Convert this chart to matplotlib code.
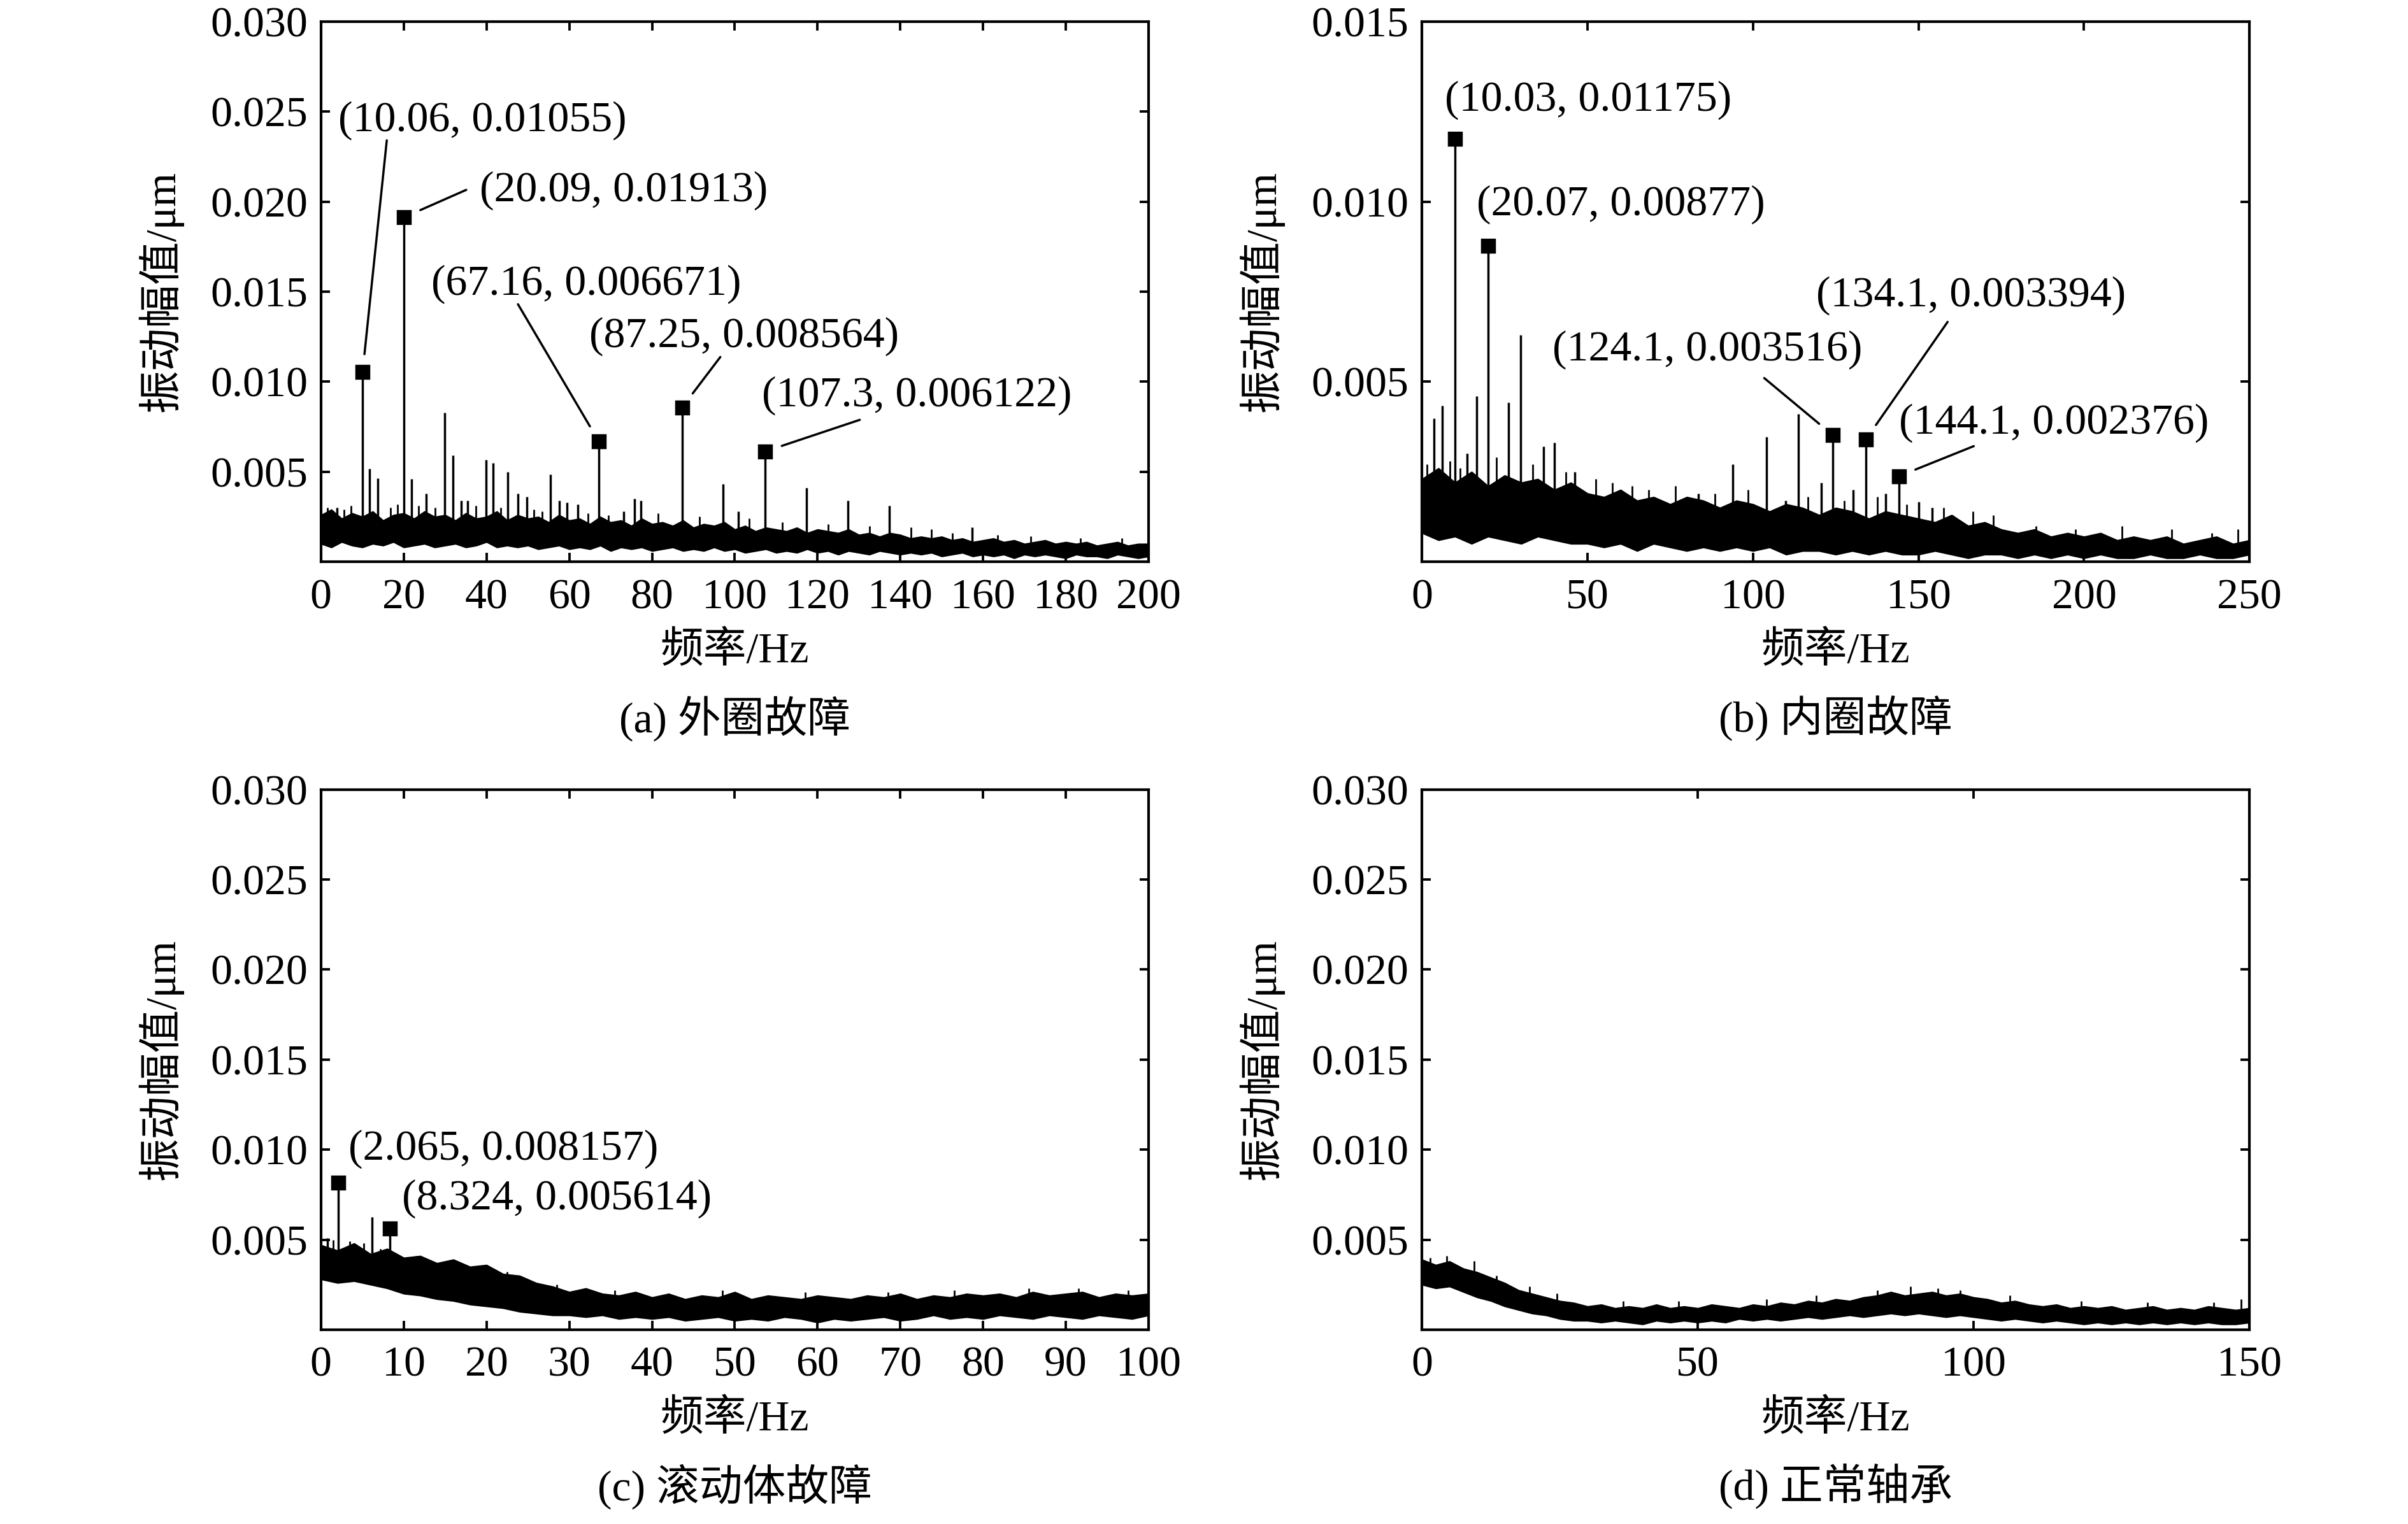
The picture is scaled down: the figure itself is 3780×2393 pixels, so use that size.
import matplotlib
matplotlib.use('Agg')
import matplotlib.pyplot as plt
import numpy as np

plt.rcParams['font.family'] = ['Liberation Serif', 'Noto Sans CJK SC']
plt.rcParams['axes.unicode_minus'] = False

# ---------------- data (amplitudes in um) ----------------
# (a) outer race fault, noise band every 2.5 Hz
a_band_f = np.arange(0, 200.1, 2.5)
a_band_up = np.array([2.6, 2.9, 2.4, 2.7, 2.5, 2.8, 2.3, 2.6, 2.7, 2.4, 2.8, 2.5, 2.6, 2.3, 2.7, 2.4, 2.5, 2.8, 2.3, 2.6,
                      2.4, 2.5, 2.2, 2.6, 2.3, 2.4, 2.1, 2.5, 2.2, 2.3, 2.0, 2.4, 2.1, 2.2, 2.0, 2.3, 1.9, 2.1, 2.0, 2.2,
                      1.8, 2.0, 1.7, 1.9, 1.8, 1.7, 1.9, 1.6, 1.8, 1.7, 1.6, 1.8, 1.5, 1.6, 1.4, 1.6, 1.5, 1.3, 1.4, 1.3,
                      1.4, 1.2, 1.3, 1.1, 1.2, 1.3, 1.1, 1.2, 1.0, 1.1, 1.2, 1.0, 1.1, 1.0, 1.1, 0.9, 1.0, 1.1, 0.9, 1.0,
                      1.0]) * 1e-3
a_band_lo = np.array([1.0, 0.8, 1.1, 0.9, 0.8, 1.0, 0.9, 1.1, 0.8, 0.9, 1.0, 0.8, 0.9, 1.0, 0.8, 0.9, 1.1, 0.8, 0.9, 0.8,
                      0.9, 0.7, 0.8, 0.9, 0.7, 0.8, 0.7, 0.9, 0.6, 0.8, 0.7, 0.8, 0.6, 0.7, 0.8, 0.6, 0.7, 0.6, 0.8, 0.6,
                      0.7, 0.5, 0.6, 0.7, 0.5, 0.6, 0.5, 0.7, 0.5, 0.6, 0.4, 0.6, 0.5, 0.4, 0.6, 0.5, 0.4, 0.5, 0.4, 0.5,
                      0.3, 0.4, 0.5, 0.3, 0.4, 0.3, 0.4, 0.2, 0.4, 0.3, 0.4, 0.3, 0.2, 0.4, 0.3, 0.3, 0.2, 0.4, 0.3, 0.2,
                      0.3]) * 1e-3
a_spike_f = [3.8, 11.7, 13.7, 21.9, 25.4, 29.9, 31.9, 33.9, 35.4, 39.9, 41.6, 45.2, 47.6, 49.7, 55.4, 57.6,
             59.4, 62.1, 73.1, 75.8, 77.3, 97.2, 100.8, 117.4, 127.4, 137.4, 157.4]
a_spike_a = [0.0030, 0.00518, 0.00462, 0.0046, 0.0038, 0.00827, 0.00592, 0.0034, 0.0034, 0.00565, 0.0055,
             0.0050, 0.0038, 0.0036, 0.00484, 0.0034, 0.0033, 0.0032, 0.0028, 0.0035, 0.0034, 0.0043, 0.0028,
             0.0041, 0.0034, 0.0031, 0.0019]
a_grass_f = [1.5, 5.5, 7.2, 16.8, 18.5, 23.5, 27.5, 37.5, 43.5, 51.5, 53.5, 64.5, 69.5, 81.5, 91.5,
             103.5, 111.5, 122.5, 132.5, 142.5, 147.5, 152.5, 163.5, 171.5, 183.5, 193.5]
a_grass_a = [0.0030, 0.0029, 0.0031, 0.0030, 0.0032, 0.0031, 0.0030, 0.0031, 0.0030, 0.0029, 0.0028,
             0.0027, 0.0026, 0.0027, 0.0025, 0.0024, 0.0022, 0.0021, 0.0020, 0.0019, 0.0018, 0.0016,
             0.0015, 0.0014, 0.0013, 0.0013]
a_peak_f = [10.06, 20.09, 67.16, 87.25, 107.3]
a_peak_a = [0.01055, 0.01913, 0.006671, 0.008564, 0.006122]
a_peak_txt = ['(10.06, 0.01055)', '(20.09, 0.01913)', '(67.16, 0.006671)',
              '(87.25, 0.008564)', '(107.3, 0.006122)']

# (b) inner race fault, noise band every 5 Hz
b_band_f = np.arange(0, 250.1, 5)
b_band_up = np.array([2.3, 2.6, 2.2, 2.5, 2.1, 2.4, 2.2, 2.3, 2.0, 2.2,
                      1.9, 1.8, 2.0, 1.7, 1.8, 1.6, 1.8, 1.7, 1.5, 1.7,
                      1.6, 1.4, 1.6, 1.5, 1.3, 1.5, 1.4, 1.2, 1.4, 1.3,
                      1.2, 1.1, 1.3, 1.0, 1.1, 0.9, 0.8, 0.9, 0.7, 0.8,
                      0.7, 0.8, 0.6, 0.7, 0.6, 0.7, 0.5, 0.6, 0.7, 0.5,
                      0.6]) * 1e-3
b_band_lo = np.array([0.8, 0.6, 0.7, 0.5, 0.7, 0.6, 0.5, 0.7, 0.6, 0.5,
                      0.5, 0.4, 0.5, 0.3, 0.5, 0.4, 0.3, 0.4, 0.3, 0.4,
                      0.3, 0.4, 0.2, 0.3, 0.3, 0.2, 0.3, 0.2, 0.3, 0.2,
                      0.2, 0.3, 0.2, 0.1, 0.2, 0.2, 0.1, 0.2, 0.1, 0.2,
                      0.1, 0.2, 0.1, 0.1, 0.2, 0.1, 0.1, 0.2, 0.1, 0.1,
                      0.2]) * 1e-3
b_spike_f = [3.6, 6.2, 13.7, 16.5, 26.2, 29.8, 36.7, 40.1, 46.1, 83.5, 93.8, 104.1, 109.9, 113.7,
             120.6, 130.3, 140.1, 150.0, 154.1, 160.3]
b_spike_a = [0.00398, 0.00433, 0.0030, 0.0046, 0.00442, 0.0063, 0.0032, 0.0033, 0.0025, 0.0019,
             0.0027, 0.00347, 0.0017, 0.0041, 0.0022, 0.0020, 0.0019, 0.00166, 0.0015, 0.0013]
b_grass_f = [1.5, 8.5, 11.5, 22.5, 33.5, 43.5, 52.5, 57.5, 63.5, 68.5, 76.5, 88.5, 98.5, 116.5,
             127.5, 137.5, 146.5, 157.5, 166.5, 172.5, 185.5, 197.5, 211.5, 226.5, 238.5, 246.5]
b_grass_a = [0.0027, 0.0028, 0.0026, 0.0029, 0.0027, 0.0025, 0.0023, 0.0022, 0.0021, 0.0020, 0.0021,
             0.0019, 0.0020, 0.0018, 0.0017, 0.0018, 0.0016, 0.0015, 0.0014, 0.0013, 0.0010, 0.0009,
             0.0010, 0.0009, 0.0008, 0.0009]
b_peak_f = [10.03, 20.07, 124.1, 134.1, 144.1]
b_peak_a = [0.01175, 0.00877, 0.003516, 0.003394, 0.002376]
b_peak_txt = ['(10.03, 0.01175)', '(20.07, 0.00877)', '(124.1, 0.003516)',
              '(134.1, 0.003394)', '(144.1, 0.002376)']

# (c) rolling element fault, noise band every 2 Hz
c_band_f = np.arange(0, 100.1, 2)
c_band_up = np.array([4.7, 4.4, 4.8, 4.2, 4.5, 4.0, 4.1, 3.7, 3.9, 3.5,
                      3.6, 3.1, 3.0, 2.6, 2.4, 2.1, 2.3, 2.0, 1.9, 2.1,
                      1.8, 2.0, 1.7, 1.9, 1.8, 2.1, 1.7, 1.9, 1.8, 1.7,
                      1.9, 1.8, 1.7, 1.9, 1.8, 2.0, 1.7, 1.9, 1.8, 2.0,
                      1.9, 2.0, 1.8, 2.1, 1.9, 2.0, 2.1, 1.8, 2.0, 1.9,
                      2.0]) * 1e-3
c_band_lo = np.array([2.8, 2.6, 2.7, 2.5, 2.3, 2.0, 1.9, 1.7, 1.6, 1.4,
                      1.3, 1.2, 1.0, 0.9, 0.8, 0.8, 0.7, 0.8, 0.6, 0.7,
                      0.6, 0.7, 0.5, 0.6, 0.7, 0.5, 0.6, 0.5, 0.7, 0.6,
                      0.4, 0.6, 0.5, 0.6, 0.7, 0.5, 0.6, 0.8, 0.6, 0.7,
                      0.6, 0.8, 0.7, 0.6, 0.8, 0.7, 0.6, 0.8, 0.7, 0.6,
                      0.8]) * 1e-3
c_spike_f = [0.8, 6.2]
c_spike_a = [0.0051, 0.00625]
c_grass_f = [1.5, 3.5, 5.2, 7.2, 11.5, 14.5, 17.5, 22.5, 28.5, 35.5, 48.5, 58.5, 68.5, 76.5, 85.5, 91.5, 97.5]
c_grass_a = [0.0050, 0.0049, 0.0048, 0.0045, 0.0041, 0.0036, 0.0033, 0.0032, 0.0025, 0.0022, 0.0022,
             0.0021, 0.0021, 0.0022, 0.0023, 0.0023, 0.0022]
c_peak_f = [2.065, 8.324]
c_peak_a = [0.008157, 0.005614]
c_peak_txt = ['(2.065, 0.008157)', '(8.324, 0.005614)']

# (d) normal bearing, noise band every 2.5 Hz
d_band_f = np.arange(0, 150.1, 2.5)
d_band_up = np.array([3.9, 3.6, 3.8, 3.4, 3.2, 2.9, 2.6, 2.2, 2.0, 1.8,
                      1.6, 1.5, 1.3, 1.4, 1.2, 1.3, 1.2, 1.4, 1.2, 1.3,
                      1.2, 1.4, 1.3, 1.2, 1.4, 1.3, 1.5, 1.4, 1.6, 1.5,
                      1.7, 1.6, 1.8, 1.9, 2.1, 1.9, 2.0, 2.1, 1.9, 2.0,
                      1.8, 1.7, 1.5, 1.6, 1.4, 1.3, 1.4, 1.2, 1.3, 1.2,
                      1.3, 1.1, 1.2, 1.3, 1.1, 1.2, 1.1, 1.3, 1.2, 1.1,
                      1.2]) * 1e-3
d_band_lo = np.array([2.5, 2.3, 2.4, 2.1, 1.8, 1.6, 1.3, 1.1, 0.9, 0.8,
                      0.6, 0.5, 0.5, 0.4, 0.5, 0.4, 0.3, 0.5, 0.4, 0.5,
                      0.4, 0.5, 0.4, 0.6, 0.5, 0.6, 0.5, 0.6, 0.7, 0.6,
                      0.7, 0.8, 0.7, 0.8, 0.9, 0.8, 0.9, 0.8, 0.7, 0.8,
                      0.7, 0.6, 0.5, 0.6, 0.5, 0.4, 0.5, 0.4, 0.3, 0.4,
                      0.3, 0.4, 0.3, 0.4, 0.3, 0.4, 0.3, 0.4, 0.3, 0.3,
                      0.4]) * 1e-3
d_grass_f = [1.5, 4.5, 9.5, 13.5, 19.5, 24.5, 36.5, 46.5, 62.5, 71.5, 82.5, 88.5, 93.5, 97.5,
             106.5, 119.5, 131.5, 143.5, 148.5]
d_grass_a = [0.0040, 0.0041, 0.0038, 0.0030, 0.0024, 0.0020, 0.0016, 0.0016, 0.0017, 0.0019, 0.0022,
             0.0024, 0.0023, 0.0022, 0.0019, 0.0016, 0.0015, 0.0015, 0.0017]

captions = ['(a) 外圈故障', '(b) 内圈故障', '(c) 滚动体故障', '(d) 正常轴承']

# ---------------- layout ----------------
FS = 19.5
W, H = 0.3437, 0.3545
positions = [[0.1333, 0.6314, W, H], [0.5905, 0.6314, W, H],
             [0.1333, 0.1275, W, H], [0.5905, 0.1275, W, H]]
xlims = [200, 250, 100, 150]
xsteps = [20, 50, 10, 50]
ytops = [0.030, 0.015, 0.030, 0.030]

# label layout: (text left x, text centre y, leader start x, leader start y) in data units
a_lab = [(4.2, 0.0245, 15.9, 0.0234), (38.4, 0.0206, 35.1, 0.02065), (26.7, 0.01543, 47.6, 0.0143),
         (64.8, 0.0125, 96.5, 0.01137), (106.5, 0.00923, 130.2, 0.00788)]
b_lab = [(6.9, 0.01282, None, None), (16.5, 0.00991, None, None), (39.5, 0.00588, 103.4, 0.0051),
         (119.1, 0.00739, 158.8, 0.00666), (144.2, 0.00386, 166.7, 0.00321)]
c_lab = [(3.3, 0.01003, None, None), (9.8, 0.00729, None, None)]

fig = plt.figure(figsize=(15.12, 9.572), dpi=250)
fig.patch.set_facecolor('white')

bands = [(a_band_f, a_band_lo, a_band_up), (b_band_f, b_band_lo, b_band_up),
         (c_band_f, c_band_lo, c_band_up), (d_band_f, d_band_lo, d_band_up)]
spikes = [(a_spike_f, a_spike_a), (b_spike_f, b_spike_a), (c_spike_f, c_spike_a), ([], [])]
grass = [(a_grass_f, a_grass_a), (b_grass_f, b_grass_a), (c_grass_f, c_grass_a), (d_grass_f, d_grass_a)]
peaks = [(a_peak_f, a_peak_a, a_peak_txt, a_lab), (b_peak_f, b_peak_a, b_peak_txt, b_lab),
         (c_peak_f, c_peak_a, c_peak_txt, c_lab), None]

for i in range(4):
    ax = fig.add_axes(positions[i])
    f, lo, up = bands[i]
    ax.fill_between(f, lo, up, color='black', lw=0.5)
    # small noise spikes start inside the band
    gf, ga = grass[i]
    ax.vlines(gf, np.interp(gf, f, (lo + up) / 2), ga, color='black', lw=0.8)
    sf, sa = spikes[i]
    if len(sf):
        ax.vlines(sf, np.interp(sf, f, (lo + up) / 2), sa, color='black', lw=1.0)
    if peaks[i] is not None:
        pf, pa, pt, lab = peaks[i]
        ax.vlines(pf, np.interp(pf, f, (lo + up) / 2), pa, color='black', lw=1.0)
        ax.plot(pf, pa, 's', color='black', ms=6)
        for k in range(len(pf)):
            tx, ty, lx, ly = lab[k]
            ax.text(tx, ty, pt[k], fontsize=FS, ha='left', va='center')
            if lx is not None:
                ax.annotate('', xy=(pf[k], pa[k]), xytext=(lx, ly),
                            arrowprops=dict(arrowstyle='-', color='black', lw=1.0,
                                            shrinkA=0, shrinkB=8))

    ax.set_xlim(0, xlims[i])
    ax.set_ylim(0, ytops[i])
    ax.set_xticks(np.arange(0, xlims[i] + 1, xsteps[i]))
    ax.set_yticks(np.arange(0.005, ytops[i] + 0.0001, 0.005))
    ax.yaxis.set_major_formatter(matplotlib.ticker.FormatStrFormatter('%.3f'))
    ax.tick_params(direction='in', top=True, right=True, length=4, width=1.1, labelsize=FS)
    ax.tick_params(axis='x', pad=7.5)
    ax.tick_params(axis='y', pad=6)
    for s in ax.spines.values():
        s.set_linewidth(1.2)

    l, b, w, h = positions[i]
    fig.text(l - 0.0667, b + h / 2, '振动幅值/μm', fontsize=FS, rotation=90,
             ha='center', va='center')
    fig.text(l + w / 2, b - 0.0586, '频率/Hz', fontsize=FS, ha='center', va='center')
    fig.text(l + w / 2, b - 0.1028, captions[i], fontsize=FS, ha='center', va='center')

fig.savefig('out.png', dpi=250, facecolor='white')
plt.close(fig)
